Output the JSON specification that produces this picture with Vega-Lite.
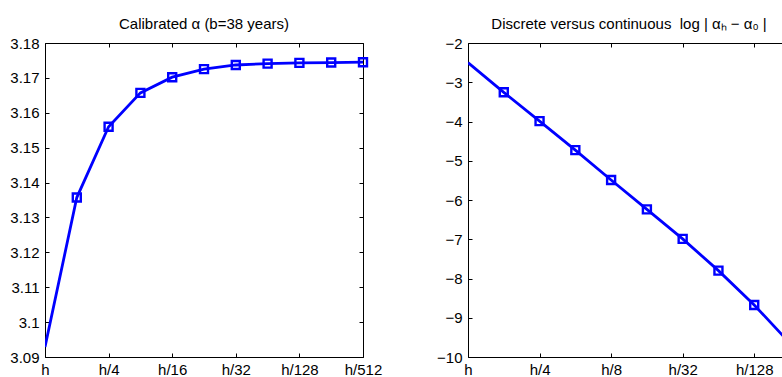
{
  "$schema": "https://vega.github.io/schema/vega-lite/v6.json",
  "autosize": {"type": "none"},
  "padding": {"left": 45, "top": 43, "right": 737, "bottom": 334},
  "background": "white",
  "datasets": {
    "calibrated": [
      {"step": 0, "alpha": 3.0929},
      {"step": 1, "alpha": 3.1357},
      {"step": 2, "alpha": 3.1560},
      {"step": 3, "alpha": 3.1657},
      {"step": 4, "alpha": 3.1702},
      {"step": 5, "alpha": 3.1725},
      {"step": 6, "alpha": 3.1737},
      {"step": 7, "alpha": 3.1741},
      {"step": 8, "alpha": 3.1743},
      {"step": 9, "alpha": 3.1744},
      {"step": 10, "alpha": 3.1745}
    ],
    "logerror": [
      {"step": 0, "logerr": -2.50},
      {"step": 1, "logerr": -3.256},
      {"step": 2, "logerr": -3.99},
      {"step": 3, "logerr": -4.73},
      {"step": 4, "logerr": -5.49},
      {"step": 5, "logerr": -6.24},
      {"step": 6, "logerr": -6.99},
      {"step": 7, "logerr": -7.80},
      {"step": 8, "logerr": -8.675},
      {"step": 9, "logerr": -9.65}
    ]
  },
  "hconcat": [
    {
      "width": 318,
      "height": 314,
      "title": {"text": "Calibrated α (b=38 years)"},
      "data": {"name": "calibrated"},
      "layer": [
        {
          "mark": {"type": "line", "color": "#0000ff", "strokeWidth": 2.8, "clip": true},
          "encoding": {
            "x": {"field": "step", "type": "quantitative",
              "scale": {"domain": [0, 10], "nice": false, "zero": false},
              "axis": {"orient": "bottom", "values": [0, 2, 4, 6, 8, 10],
                "labelExpr": "['h','h/4','h/16','h/32','h/128','h/512'][round(datum.value/2)]",
                "tickSize": -4, "labelPadding": 9}},
            "y": {"field": "alpha", "type": "quantitative",
              "scale": {"domain": [3.09, 3.18], "nice": false, "zero": false},
              "axis": {"orient": "left", "values": [3.09, 3.1, 3.11, 3.12, 3.13, 3.14, 3.15, 3.16, 3.17, 3.18],
                "format": ".2~f", "tickSize": -4, "labelPadding": 10}}
          }
        },
        {
          "transform": [{"filter": "datum.step > 0"}],
          "mark": {"type": "point", "shape": "square", "filled": false, "color": "#0000ff", "size": 64, "strokeWidth": 2.4, "opacity": 1},
          "encoding": {
            "x": {"field": "step", "type": "quantitative",
              "axis": {"orient": "top", "values": [0, 2, 4, 6, 8, 10], "labels": false, "tickSize": -4}},
            "y": {"field": "alpha", "type": "quantitative",
              "axis": {"orient": "right", "values": [3.09, 3.1, 3.11, 3.12, 3.13, 3.14, 3.15, 3.16, 3.17, 3.18], "labels": false, "tickSize": -4}}
          }
        }
      ],
      "resolve": {"axis": {"x": "independent", "y": "independent"}}
    },
    {
      "width": 322,
      "height": 314,
      "title": {"text": "Discrete versus continuous\u00a0 log | αₕ − α₀ |"},
      "data": {"name": "logerror"},
      "layer": [
        {
          "mark": {"type": "line", "color": "#0000ff", "strokeWidth": 2.8, "clip": true},
          "encoding": {
            "x": {"field": "step", "type": "quantitative",
              "scale": {"domain": [0, 9], "nice": false, "zero": false},
              "axis": {"orient": "bottom", "values": [0, 2, 4, 6, 8],
                "labelExpr": "['h','h/4','h/8','h/32','h/128'][round(datum.value/2)]",
                "tickSize": -4, "labelPadding": 9}},
            "y": {"field": "logerr", "type": "quantitative",
              "scale": {"domain": [-10, -2], "nice": false, "zero": false},
              "axis": {"orient": "left", "values": [-10, -9, -8, -7, -6, -5, -4, -3, -2],
                "format": "d", "tickSize": -4, "labelPadding": 10}}
          }
        },
        {
          "transform": [{"filter": "datum.step > 0"}],
          "mark": {"type": "point", "shape": "square", "filled": false, "color": "#0000ff", "size": 64, "strokeWidth": 2.4, "opacity": 1},
          "encoding": {
            "x": {"field": "step", "type": "quantitative",
              "axis": {"orient": "top", "values": [0, 2, 4, 6, 8], "labels": false, "tickSize": -4}},
            "y": {"field": "logerr", "type": "quantitative",
              "axis": {"orient": "right", "values": [-10, -9, -8, -7, -6, -5, -4, -3, -2], "labels": false, "tickSize": -4}}
          }
        }
      ],
      "resolve": {"axis": {"x": "independent", "y": "independent"}}
    }
  ],
  "spacing": 105,
  "bounds": "flush",
  "config": {
    "view": {"stroke": null},
    "axis": {
      "grid": false, "title": null,
      "domainColor": "black", "domainWidth": 1,
      "tickColor": "black", "tickWidth": 1,
      "labelColor": "black", "labelFont": "Liberation Sans", "labelFontSize": 15,
      "labelOverlap": false, "labelFlush": false
    },
    "title": {"font": "Liberation Sans", "fontSize": 15, "fontWeight": "normal", "color": "black", "offset": 4}
  }
}
